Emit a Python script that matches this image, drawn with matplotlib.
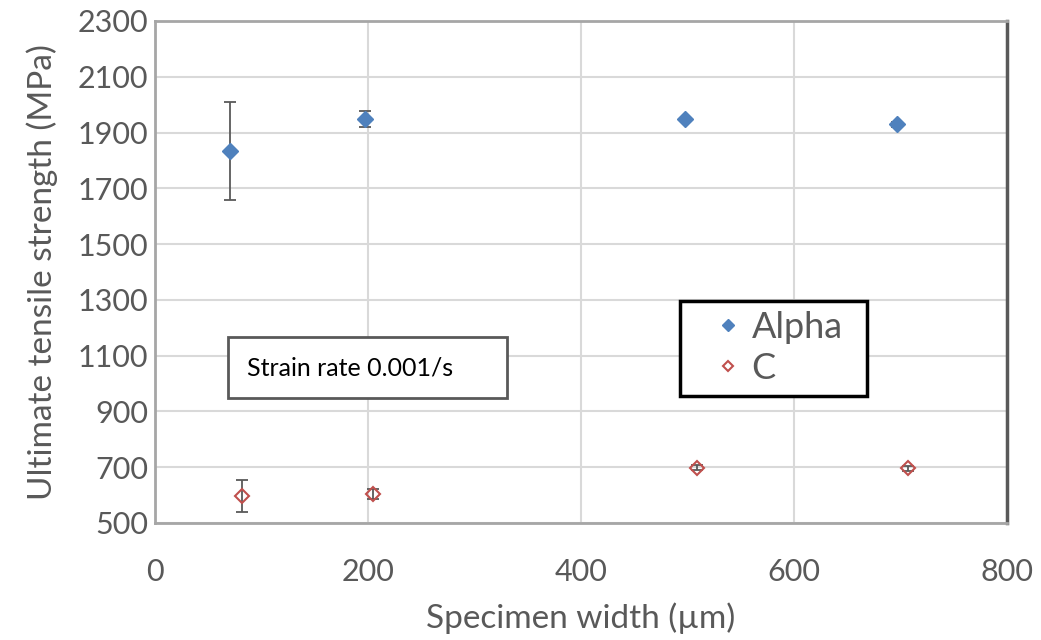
import matplotlib
matplotlib.use("Agg")
import matplotlib.pyplot as plt
from matplotlib.patches import Rectangle

plt.rcParams['font.family'] = ['Lato', 'DejaVu Sans']

# Data
alpha_x = [70, 197, 498, 697]
alpha_y = [1835, 1949, 1947, 1929]
alpha_err = [176, 30, 6, 8]

c_x = [82, 205, 509, 707]
c_y = [596, 603, 699, 696]
c_err = [57, 18, 10, 8]

xticks = [0, 200, 400, 600, 800]
yticks = [500, 700, 900, 1100, 1300, 1500, 1700, 1900, 2100, 2300]

fig = plt.figure(figsize=(10.41, 6.4), dpi=100)
ax = fig.add_axes([155/1041, 1-523/640, (1007-155)/1041, (523-21)/640])

ax.set_xlim(0, 800)
ax.set_ylim(500, 2300)
ax.set_xticks(xticks)
ax.set_yticks(yticks)
ax.grid(True, color='#D9D9D9', linewidth=1.5)
ax.set_axisbelow(True)

ecol = '#595959'
ax.errorbar(alpha_x, alpha_y, yerr=alpha_err, fmt='none', ecolor=ecol,
            elinewidth=1.3, capsize=4.5, capthick=1.3, zorder=3)
ax.errorbar(c_x, c_y, yerr=c_err, fmt='none', ecolor=ecol,
            elinewidth=1.3, capsize=4.5, capthick=1.3, zorder=3)
h1, = ax.plot(alpha_x, alpha_y, linestyle='none', marker='D', markersize=8,
              color='#4F81BD', markeredgecolor='#4F81BD', zorder=4, label='Alpha')
h2, = ax.plot(c_x, c_y, linestyle='none', marker='D', markersize=7.0,
              markerfacecolor='none', markeredgecolor='#C0504D', markeredgewidth=1.5,
              zorder=4, label='C')

for s in ['left', 'bottom', 'top']:
    ax.spines[s].set_color('#A6A6A6')
    ax.spines[s].set_linewidth(2)
ax.spines['right'].set_color('#595959')
ax.spines['right'].set_linewidth(2.5)

ax.tick_params(axis='both', length=0, labelsize=22, labelcolor='#595959')
ax.tick_params(axis='y', pad=5)
ax.tick_params(axis='x', pad=25)

ax.set_xlabel('Specimen width (µm)', fontsize=24, color='#595959', labelpad=12)
ax.set_ylabel('Ultimate tensile strength (MPa)', fontsize=24, color='#595959', labelpad=14)

# legend box (drawn manually for exact placement)
fig.patches.append(Rectangle((680/1041, 1-396/640), (867-680)/1041, (396-301)/640,
                             transform=fig.transFigure, facecolor='white',
                             edgecolor='black', linewidth=2.5, zorder=9))
leg = fig.legend(handles=[h1, h2], loc='center left',
                 bbox_to_anchor=(712/1041, 1-348/640),
                 bbox_transform=fig.transFigure, fontsize=26, frameon=False,
                 markerscale=0.8, handlelength=0.9, handletextpad=0.2,
                 borderpad=0, labelspacing=0.22, borderaxespad=0)
for t in leg.get_texts():
    t.set_color('#595959')
leg.set_zorder(10)

fig.patches.append(Rectangle((228/1041, 1-398/640), (507-228)/1041, (398-337)/640,
                             transform=fig.transFigure, facecolor='white',
                             edgecolor='#595959', linewidth=2, zorder=5))
fig.text(247/1041, 1-368/640, 'Strain rate 0.001/s', fontsize=18, color='black',
         va='center', ha='left', zorder=6)

fig.savefig('out.png', dpi=100)
